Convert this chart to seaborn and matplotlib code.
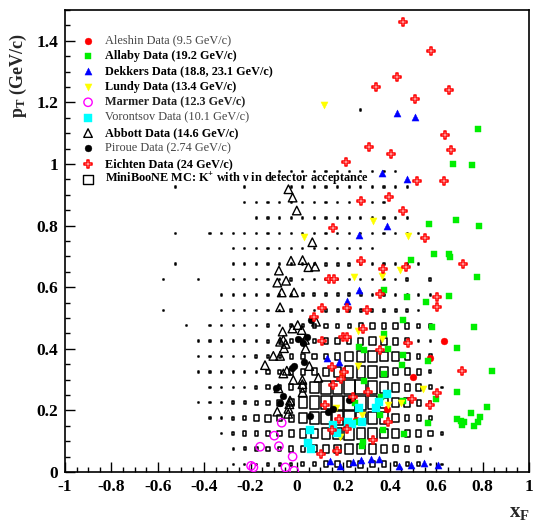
import numpy as np
import pandas as pd
import matplotlib
matplotlib.use("Agg")
import matplotlib.pyplot as plt
from matplotlib.patches import Rectangle
from matplotlib.collections import PatchCollection
from matplotlib.ticker import FixedLocator, FixedFormatter, MultipleLocator
import seaborn as sns

# ---------------------------------------------------------------- data
# MiniBooNE MC: K+ yield per (xF, pT) bin, bins 0.05 x 0.05
mc_xf_centers = [-0.575, -0.525, -0.475, -0.425, -0.375, -0.325, -0.275, -0.225,
                 -0.175, -0.125, -0.075, -0.025, 0.025, 0.075, 0.125, 0.175,
                 0.225, 0.275, 0.325, 0.375, 0.425, 0.475, 0.525, 0.575,
                 0.625, 0.675]
mc_pt_centers = [0.025, 0.075, 0.125, 0.175, 0.225, 0.275, 0.325, 0.375,
                 0.425, 0.475, 0.525, 0.575, 0.625, 0.675, 0.725, 0.775,
                 0.825, 0.875, 0.925, 0.975, 1.025, 1.075, 1.125, 1.175]
mc_counts = [
    [0, 0, 0, 0, 0, 0, 1, 1, 1, 2, 2, 2, 3, 3, 4, 4, 4, 5, 4, 4, 3, 3, 3, 1, 1, 0],
    [0, 0, 0, 0, 0, 0, 1, 2, 3, 3, 3, 4, 4, 5, 6, 6, 7, 7, 7, 6, 5, 4, 4, 1, 0, 0],
    [0, 0, 0, 0, 0, 1, 2, 3, 3, 4, 4, 5, 6, 6, 8, 8, 9, 8, 8, 7, 6, 5, 5, 4, 2, 0],
    [0, 0, 0, 0, 1, 1, 2, 3, 4, 5, 4, 5, 7, 8, 9, 10, 10, 9, 9, 8, 6, 4, 4, 3, 0, 0],
    [0, 0, 0, 1, 1, 1, 2, 2, 3, 3, 4, 5, 8, 9, 9, 10, 10, 10, 9, 7, 6, 6, 4, 2, 0, 0],
    [0, 0, 0, 0, 1, 1, 1, 1, 2, 3, 3, 4, 6, 8, 9, 9, 10, 10, 9, 8, 6, 5, 5, 3, 1, 0],
    [0, 0, 0, 1, 1, 1, 1, 1, 1, 3, 3, 4, 4, 5, 6, 7, 8, 8, 8, 7, 5, 5, 4, 2, 0, 0],
    [0, 0, 0, 1, 1, 1, 1, 1, 2, 2, 2, 3, 4, 4, 4, 5, 7, 8, 8, 7, 6, 5, 3, 3, 0, 0],
    [0, 0, 0, 1, 1, 1, 1, 1, 1, 2, 2, 3, 3, 3, 4, 4, 4, 5, 6, 5, 5, 4, 1, 1, 0, 0],
    [0, 0, 1, 0, 1, 1, 1, 1, 1, 2, 1, 2, 2, 3, 3, 3, 3, 4, 4, 4, 4, 4, 3, 3, 0, 0],
    [1, 0, 0, 0, 0, 1, 1, 1, 1, 1, 1, 2, 1, 1, 2, 2, 2, 2, 2, 2, 2, 2, 1, 0, 0, 0],
    [0, 0, 0, 0, 0, 1, 1, 1, 1, 1, 1, 1, 2, 2, 2, 2, 2, 2, 1, 1, 1, 1, 1, 1, 0, 0],
    [1, 0, 0, 1, 0, 0, 1, 1, 1, 1, 1, 2, 1, 1, 1, 1, 1, 1, 1, 1, 1, 2, 0, 2, 0, 0],
    [0, 1, 0, 0, 0, 0, 1, 1, 1, 1, 1, 1, 1, 1, 2, 2, 2, 1, 1, 1, 1, 1, 1, 0, 0, 0],
    [0, 0, 0, 0, 0, 0, 1, 1, 1, 1, 1, 1, 1, 1, 1, 1, 1, 1, 1, 0, 0, 0, 0, 0, 0, 0],
    [0, 1, 0, 0, 1, 1, 1, 1, 1, 1, 1, 1, 1, 1, 1, 1, 1, 1, 1, 1, 1, 1, 1, 0, 0, 0],
    [0, 0, 0, 0, 0, 0, 0, 0, 1, 1, 1, 1, 1, 1, 1, 1, 1, 1, 1, 1, 1, 1, 0, 0, 0, 0],
    [0, 0, 0, 0, 0, 0, 0, 1, 1, 1, 1, 1, 1, 1, 1, 1, 1, 1, 1, 1, 0, 0, 0, 0, 0, 0],
    [0, 1, 0, 0, 0, 0, 0, 1, 0, 0, 0, 1, 1, 1, 1, 1, 1, 1, 1, 1, 1, 1, 0, 0, 0, 0],
    [0, 0, 0, 0, 0, 0, 0, 0, 0, 0, 1, 1, 1, 1, 1, 1, 1, 1, 1, 1, 1, 0, 0, 0, 0, 0],
    [0, 0, 0, 0, 0, 0, 0, 0, 0, 0, 0, 0, 0, 0, 0, 0, 0, 0, 0, 0, 0, 0, 0, 0, 0, 0],
    [0, 0, 0, 0, 0, 0, 0, 0, 0, 0, 0, 0, 0, 0, 0, 0, 0, 0, 0, 0, 0, 0, 0, 0, 0, 0],
    [0, 0, 0, 0, 0, 0, 0, 0, 0, 0, 0, 0, 0, 0, 0, 0, 0, 0, 0, 0, 0, 0, 0, 0, 0, 0],
    [0, 0, 0, 0, 0, 0, 0, 0, 0, 0, 0, 0, 0, 0, 0, 0, 0, 1, 0, 0, 0, 0, 0, 0, 0, 0],
]

# measured (xF, pT) points of each experiment
aleshin_xf = [0.634, 0.575, 0.499, 0.387, 0.253]
aleshin_pt = [0.426, 0.371, 0.307, 0.204, 0.169]

allaby_xf = [0.782, 0.671, 0.754, 0.685, 0.568, 0.783, 0.592, 0.655, 0.659, 0.493,
             0.776, 0.375, 0.655, 0.473, 0.556, 0.457, 0.583, 0.762, 0.376, 0.690,
             0.267, 0.290, 0.391, 0.458, 0.566, 0.451, 0.842, 0.376, 0.290, 0.688,
             0.361, 0.598, 0.458, 0.250, 0.820, 0.750, 0.358, 0.790, 0.688, 0.706,
             0.779, 0.720, 0.257, 0.566, 0.710, 0.762, 0.372, 0.461, 0.286, 0.282]
allaby_pt = [1.114, 0.999, 0.996, 0.817, 0.804, 0.798, 0.707, 0.707, 0.698, 0.688,
             0.632, 0.591, 0.572, 0.567, 0.552, 0.494, 0.470, 0.472, 0.448, 0.404,
             0.405, 0.396, 0.398, 0.380, 0.361, 0.347, 0.328, 0.317, 0.296, 0.259,
             0.245, 0.236, 0.232, 0.223, 0.210, 0.191, 0.184, 0.180, 0.171, 0.165,
             0.162, 0.162, 0.161, 0.160, 0.154, 0.150, 0.136, 0.123, 0.098, 0.085]

dekkers_xf = [0.430, 0.510, 0.365, 0.473, 0.387, 0.269, 0.269, 0.217, 0.128, 0.182,
              0.142, 0.185, 0.240, 0.276, 0.318, 0.355, 0.440, 0.491, 0.549, 0.606]
dekkers_pt = [1.164, 1.152, 0.970, 0.952, 0.799, 0.771, 0.591, 0.556, 0.369, 0.356,
              0.037, 0.019, 0.032, 0.039, 0.043, 0.041, 0.019, 0.024, 0.030, 0.022]

lundy_xf = [0.116, 0.326, 0.478, 0.030, 0.445, 0.365, 0.246, 0.264, 0.368, 0.264,
            0.193, 0.542, 0.447, 0.391, 0.168, 0.282, 0.185]
lundy_pt = [1.192, 0.815, 0.766, 0.763, 0.656, 0.637, 0.634, 0.459, 0.431, 0.344,
            0.315, 0.268, 0.225, 0.218, 0.207, 0.185, 0.113]

marmer_xf = [-0.066, -0.098, -0.159, -0.078, -0.019, -0.198, -0.188, -0.050, -0.012]
marmer_pt = [0.160, 0.118, 0.082, 0.084, 0.050, 0.020, 0.015, 0.015, 0.004]

vorontsov_xf = [0.387, 0.352, 0.341, 0.269, 0.282, 0.221, 0.236, 0.154, 0.171,
                0.056, 0.049, 0.060]
vorontsov_pt = [0.252, 0.227, 0.207, 0.209, 0.163, 0.163, 0.156, 0.153, 0.126,
                0.136, 0.095, 0.074]

abbott_xf = [-0.037, -0.019, -0.001, 0.066, -0.026, 0.024, 0.049, 0.078, -0.078,
             -0.085, -0.047, -0.066, -0.013, -0.073, 0.082, 0.003, -0.020, -0.062,
             0.020, -0.059, -0.049, -0.073, -0.056, 0.034, 0.037, -0.102, -0.073,
             -0.138, 0.053, -0.044, -0.059, -0.016, 0.023, 0.092, 0.023, -0.080,
             0.024, -0.030, -0.033, -0.037, -0.085, -0.038]
abbott_pt = [0.918, 0.891, 0.849, 0.746, 0.686, 0.688, 0.665, 0.667, 0.654,
             0.615, 0.621, 0.583, 0.583, 0.535, 0.488, 0.477, 0.466, 0.456,
             0.461, 0.429, 0.416, 0.423, 0.402, 0.429, 0.401, 0.377, 0.377,
             0.347, 0.344, 0.329, 0.320, 0.299, 0.299, 0.306, 0.285, 0.272,
             0.259, 0.232, 0.220, 0.205, 0.196, 0.189]

piroue_xf = [0.059, 0.042, 0.003, 0.027, 0.031, -0.012, -0.023, -0.091, -0.062,
             -0.073, 0.225, 0.157, 0.135, 0.056]
piroue_pt = [0.494, 0.437, 0.433, 0.418, 0.356, 0.344, 0.337, 0.274, 0.248,
             0.225, 0.234, 0.205, 0.196, 0.182]

eichten_xf = [0.458, 0.578, 0.430, 0.340, 0.657, 0.509, 0.637, 0.665, 0.312, 0.405,
              0.211, 0.516, 0.635, 0.397, 0.276, 0.458, 0.155, 0.550, 0.274, 0.372,
              0.470, 0.717, 0.139, 0.161, 0.358, 0.605, 0.602, 0.106, 0.217, 0.300,
              0.075, 0.286, 0.197, 0.217, 0.106, 0.480, 0.358, 0.151, 0.710, 0.203,
              0.190, 0.157, 0.307, 0.602, 0.243, 0.497, 0.121, 0.573, 0.182, 0.394,
              0.214, 0.150, 0.326, 0.171, 0.102]
eichten_pt = [1.462, 1.368, 1.281, 1.251, 1.239, 1.211, 1.093, 1.045, 1.055, 1.032,
              1.005, 0.945, 0.945, 0.894, 0.880, 0.846, 0.792, 0.760, 0.685, 0.659,
              0.667, 0.674, 0.627, 0.627, 0.578, 0.569, 0.537, 0.531, 0.533, 0.526,
              0.502, 0.463, 0.437, 0.437, 0.426, 0.418, 0.396, 0.342, 0.328, 0.326,
              0.302, 0.282, 0.259, 0.258, 0.245, 0.237, 0.218, 0.218, 0.171, 0.161,
              0.140, 0.136, 0.104, 0.069, 0.058]

legend_labels = [
    "Aleshin Data (9.5 GeV/c)",
    "Allaby Data (19.2 GeV/c)",
    "Dekkers Data (18.8, 23.1 GeV/c)",
    "Lundy Data (13.4 GeV/c)",
    "Marmer Data (12.3 GeV/c)",
    "Vorontsov Data (10.1 GeV/c)",
    "Abbott Data (14.6 GeV/c)",
    "Piroue Data (2.74 GeV/c)",
    "Eichten Data (24 GeV/c)",
    r"MiniBooNE MC: K$^{\mathbf{+}}$ with ν in detector acceptance",
]

xf_ticks = [-1, -0.8, -0.6, -0.4, -0.2, 0, 0.2, 0.4, 0.6, 0.8, 1]
xf_tick_labels = ["-1", "-0.8", "-0.6", "-0.4", "-0.2", "0", "0.2", "0.4", "0.6", "0.8", "1"]
pt_ticks = [0, 0.2, 0.4, 0.6, 0.8, 1.0, 1.2, 1.4]
pt_tick_labels = ["0", "0.2", "0.4", "0.6", "0.8", "1", "1.2", "1.4"]

# ---------------------------------------------------------------- style
sns.set_theme(style="white")
plt.rcParams["font.family"] = ["Liberation Serif", "DejaVu Serif"]
plt.rcParams["mathtext.fontset"] = "custom"
plt.rcParams["mathtext.rm"] = "Liberation Serif:bold"
plt.rcParams["mathtext.bf"] = "Liberation Serif:bold"
plt.rcParams["mathtext.it"] = "Liberation Serif:bold"
plt.rcParams["axes.unicode_minus"] = False

fig = plt.figure(figsize=(5.33, 5.23), dpi=100)
fig.patch.set_facecolor("white")
ax = fig.add_axes([0.122, 0.0975, 0.8705, 0.8834])
ax.set_facecolor("white")

# ---------------------------------------------------------------- MC boxes
bin_w, bin_h = 0.05, 0.05
counts = np.array(mc_counts, dtype=float)
cmax = counts.max()
boxes = []
for i, pt in enumerate(mc_pt_centers):
    for j, xf in enumerate(mc_xf_centers):
        c = counts[i, j]
        if c <= 0:
            continue
        frac = 0.92 * c / cmax
        w, h = bin_w * frac, bin_h * frac
        boxes.append(Rectangle((xf - w / 2, pt - h / 2), w, h))
ax.add_collection(PatchCollection(boxes, facecolor="none", edgecolor="black",
                                  linewidth=1.1, zorder=2))

# ---------------------------------------------------------------- data points
series = [
    (aleshin_xf, aleshin_pt, dict(marker="o", s=24, color="#ff0000", edgecolor="#ff0000", linewidth=0.3)),
    (allaby_xf, allaby_pt, dict(marker="s", s=22, color="#00ee00", edgecolor="#00ee00", linewidth=0.3)),
    (dekkers_xf, dekkers_pt, dict(marker="^", s=26, color="#0000ff", edgecolor="#0000ff", linewidth=0.3)),
    (lundy_xf, lundy_pt, dict(marker="v", s=26, color="#ffff00", edgecolor="#ffff00", linewidth=0.3)),
    (marmer_xf, marmer_pt, dict(marker="o", s=36, facecolor="none", edgecolor="#ff00ff", linewidth=1.0)),
    (vorontsov_xf, vorontsov_pt, dict(marker="s", s=26, color="#00ffff", edgecolor="#00ffff", linewidth=0.3)),
    (abbott_xf, abbott_pt, dict(marker="^", s=38, facecolor="none", edgecolor="black", linewidth=1.0)),
    (piroue_xf, piroue_pt, dict(marker="o", s=24, color="black", edgecolor="black", linewidth=0.3)),
    (eichten_xf, eichten_pt, dict(marker="P", s=30, facecolor="white", edgecolor="#ff0000", linewidth=1.1)),
]
for xs, ys, kw in series:
    df = pd.DataFrame({"xF": xs, "pT": ys})
    sns.scatterplot(data=df, x="xF", y="pT", ax=ax, zorder=3, legend=False, **kw)

# ---------------------------------------------------------------- legend
leg_top, leg_step = 0.9336, 0.03333
leg_weights = ["normal", "bold", "bold", "bold", "bold", "normal", "bold", "normal", "bold", "bold"]
leg_colors = ["#444444", "black", "black", "black", "#222222", "#444444", "black", "#444444", "black", "black"]
key_styles = [kw for _, _, kw in series] + [dict(marker="s", s=44, facecolor="none",
                                                  edgecolor="black", linewidth=1.0)]
for k, (label, kw) in enumerate(zip(legend_labels, key_styles)):
    yk = leg_top - k * leg_step
    ax.scatter([0.0496], [yk], transform=ax.transAxes, clip_on=False, zorder=5, **kw)
    ax.text(0.0862, yk, label, transform=ax.transAxes, fontsize=8.8,
            fontweight=leg_weights[k], color=leg_colors[k], va="center", ha="left",
            zorder=5)

# ---------------------------------------------------------------- axes
ax.set_xlim(-1, 1)
ax.set_ylim(0, 1.5)
ax.xaxis.set_major_locator(FixedLocator(xf_ticks))
ax.xaxis.set_major_formatter(FixedFormatter(xf_tick_labels))
ax.yaxis.set_major_locator(FixedLocator(pt_ticks))
ax.yaxis.set_major_formatter(FixedFormatter(pt_tick_labels))
ax.xaxis.set_minor_locator(MultipleLocator(0.05))
ax.yaxis.set_minor_locator(MultipleLocator(0.05))
ax.tick_params(which="both", direction="in", colors="black", width=1.0,
               bottom=True, left=True, top=False, right=False)
ax.tick_params(which="major", length=7.5, pad=5)
ax.tick_params(which="minor", length=3.5)
for lab in ax.get_xticklabels() + ax.get_yticklabels():
    lab.set_fontsize(12.5)
    lab.set_fontweight("bold")
for sp in ax.spines.values():
    sp.set_visible(True)
    sp.set_color("black")
    sp.set_linewidth(1.2)
ax.set_xlabel("")
ax.set_ylabel("")

fig.text(18 / 533, 1 - 76 / 523, r"$\mathbf{p_{T}}$ (GeV/c)", rotation=90,
         fontsize=13, fontweight="bold", ha="center", va="center")
fig.text(519 / 533, 1 - 512 / 523, r"$\mathbf{x_{F}}$", fontsize=15,
         fontweight="bold", ha="center", va="center")

fig.savefig("out.png", dpi=100, facecolor="white")
